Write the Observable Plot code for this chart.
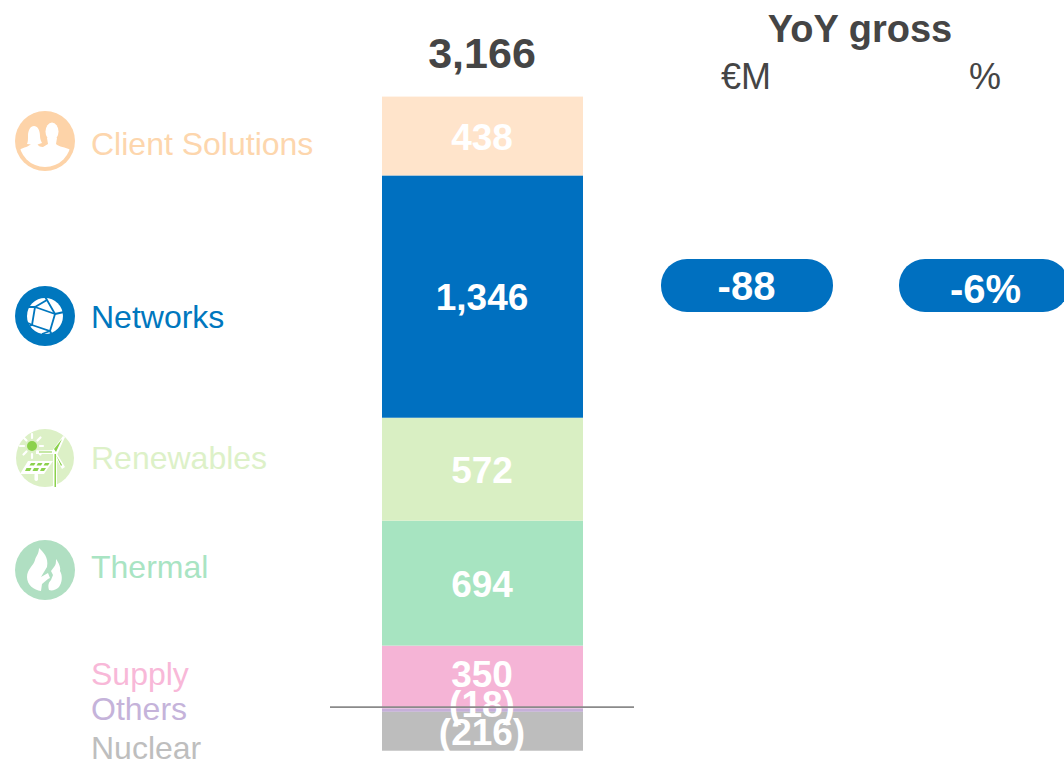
<!DOCTYPE html>
<html><head><meta charset="utf-8">
<script src="https://cdn.jsdelivr.net/npm/d3@7"></script>
<script src="https://cdn.jsdelivr.net/npm/@observablehq/plot@0.6"></script>
<style>html,body{margin:0;padding:0;background:#fff;overflow:hidden}svg{display:block}</style>
</head><body><div id="chart"></div>
<script>
// Data, in stacking order (outwards from zero)
const categories = ["Supply","Thermal","Renewables","Networks","Client Solutions","Others","Nuclear"];
const values = [350,694,572,1346,438,-18,-216];
const valueLabels = ["350","694","572","1,346","438","(18)","(216)"];
const totalLabel = "3,166";
const colors = ["#F5B4D6","#A7E4C1","#D9EFC3","#0070C0","#FFE4CB","#C6AFD9","#BDBDBD"];
const legendColors = ["#F8B8D8","#A9E4C3","#DDF1C8","#0077BE","#FDD6AD","#C5B3DA","#BEBEBE"];
const headerTitle = "YoY gross";
const headerUnits = ["€M","%"];
const yoyLabels = ["-88","-6%"];

// Layout, in page pixels
const W = 1064, H = 759, ZERO = 708.6, PX_PER_UNIT = 0.18;
const toY = px => (ZERO - px) / PX_PER_UNIT;
const labelPx = [675,584.5,470.5,297.5,137.5,704.5,732.5];
const legendPx = [674.5,567,458,317,144,709,748];
const FONT = "Liberation Sans, Arial, sans-serif";
const DARK = "#454545";

const rows = categories.map((name,i)=>({name,value:values[i],label:valueLabels[i],ly:toY(labelPx[i]),gy:toY(legendPx[i])}));

const svgUri = s => "data:image/svg+xml," + encodeURIComponent(`<svg xmlns="http://www.w3.org/2000/svg" viewBox="0 0 60 60" width="60" height="60">${s}</svg>`);
const icons = [
 {py:140.5, src: svgUri(`<defs><clipPath id="c"><circle cx="30" cy="30" r="26"/></clipPath></defs><circle cx="30" cy="30" r="30" fill="#FDD3A8"/><g fill="#fff"><ellipse cx="37" cy="20.500" rx="6.500" ry="9"/><path d="M13 25c0-6 2.500-10 6-10s6 4 6 10c0 3 1 5 2 7l-6 2-9-1c1-2 1-5 1-8z"/><g clip-path="url(#c)"><path d="M4 39C9 36 14 36 17 32L22 32C23 35 25 36 28 36L33 33 32 27H42L41 33C44 36 50 36 56 39V60H4z"/></g></g>`)},
 {py:315.5, src: svgUri(`<circle cx="30" cy="30" r="30" fill="#0077BE"/><circle cx="30" cy="30" r="18" fill="#fff"/><g fill="none" stroke="#0077BE" stroke-width="1.800"><path d="M20 21 40 28 35 45 17 39z"/><path d="M20 21 32 14 40 28M32 14 30 11M40 28 49 26M35 45 37 49M17 39 13 37M20 21 12 21M17 39 12 41M35 45 27 48"/></g>`)},
 {py:457.5, src: svgUri(`<circle cx="30" cy="30" r="29" fill="#DCF0C6"/><circle cx="17" cy="18" r="5" fill="#8BD14C"/><g stroke="#fff" stroke-width="2.200" fill="none" stroke-linecap="round"><path d="M17 6v4M17 26v4M5 18h4M25 18h3M8.500 9.500l3 3M22.500 23.500l3 3M8.500 26.500l3-3M22.500 12.500l3-3"/></g><g fill="#fff"><path d="M21 22.500 38 22 39 26 21 26z"/><path d="M37 23 48 8 50 9 42 27z"/><path d="M38 25 41 24 50 39 47 41z"/><rect x="38" y="25" width="4" height="34"/><path d="M13 33H38L29 46H5z"/><rect x="19.500" y="45" width="3.500" height="8" rx="1.700"/></g><path d="M24 23.500H37L37 24.500H24zM39.500 26h1.500v33h-1.500zM39 21 47 11 41 24zM41 27 47 37 46 38z" fill="#8BD14C"/><path d="M16 35h4.500l-1.500 2.500h-4.500zM23 35h4.500l-1.500 2.500h-4.500zM30 35h4.500l-1.500 2.500h-4.500zM11.500 40h5l-1.500 3h-5zM19 40h5l-1.500 3h-5zM26.500 40h4.500l-2 3h-4z" fill="#8BD14C"/>`)},
 {py:569.5, src: svgUri(`<circle cx="30" cy="30" r="30" fill="#B0DFC2"/><path fill="#fff" d="M24 8C28 12 34 17 32 27L29 32 26 37 33 33 35 38 33 39 27 44 26 51C19 50 12 45 12 37 12 29 19 25 20 20 21 16 24 14 24 8z"/><path fill="#fff" d="M41 19C44 23 46 28 45 31 48 36 47 43 44 47 41 50 37 51 34 50 33 46 33 43 36 40L38 35 36 31 39 27C41 25 41 22 41 19z"/>`)}
];

const plot = Plot.plot({
  width: W, height: H, margin: 0,
  style: {background: "#fff", fontFamily: FONT},
  x: {domain: [0,W], range: [0,W], axis: null},
  y: {domain: [toY(H), toY(0)], range: [H,0], axis: null},
  color: {domain: categories, range: colors},
  marks: [
    Plot.rectY(rows, {x1: () => 382, x2: () => 583, y: "value", fill: "name", order: null}),
    Plot.text(rows, {x: () => 481.5, y: "ly", text: "label", fill: "#fff", fontSize: 37, fontWeight: "bold"}),
    Plot.ruleY([0], {x1: 330, x2: 634, dy: -2, stroke: "#8a8a8a", strokeWidth: 1.7}),
    Plot.text(rows, {x: () => 90.5, y: "gy", text: "name", textAnchor: "start", fontSize: 32, fill: (d) => legendColors[categories.indexOf(d.name)]}),
    Plot.image(icons, {x: () => 44.5, y: d => toY(d.py), src: "src", width: 60, height: 60}),
    Plot.text([totalLabel], {x: () => 481.5, y: () => toY(54), text: d => d, fill: DARK, fontSize: 43, fontWeight: "bold"}),
    Plot.text([headerTitle], {x: () => 859.5, y: () => toY(29.5), text: d => d, fill: DARK, fontSize: 38, fontWeight: "bold"}),
    Plot.text(headerUnits, {x: (d,i) => [745.5,984.5][i], y: () => toY(77), text: d => d, fill: DARK, fontSize: 36}),
    Plot.rect(yoyLabels, {x1: (d,i) => [661,899][i], x2: (d,i) => [833,1069][i], y1: () => toY(312), y2: () => toY(259), rx: 26, fill: "#0070C0"}),
    Plot.text(yoyLabels, {x: (d,i) => [746,985][i], y: (d,i) => toY([287,290][i]), text: d => d, fill: "#fff", fontSize: 40, fontWeight: "bold"})
  ]
});
document.getElementById("chart").append(plot);
</script></body></html>
